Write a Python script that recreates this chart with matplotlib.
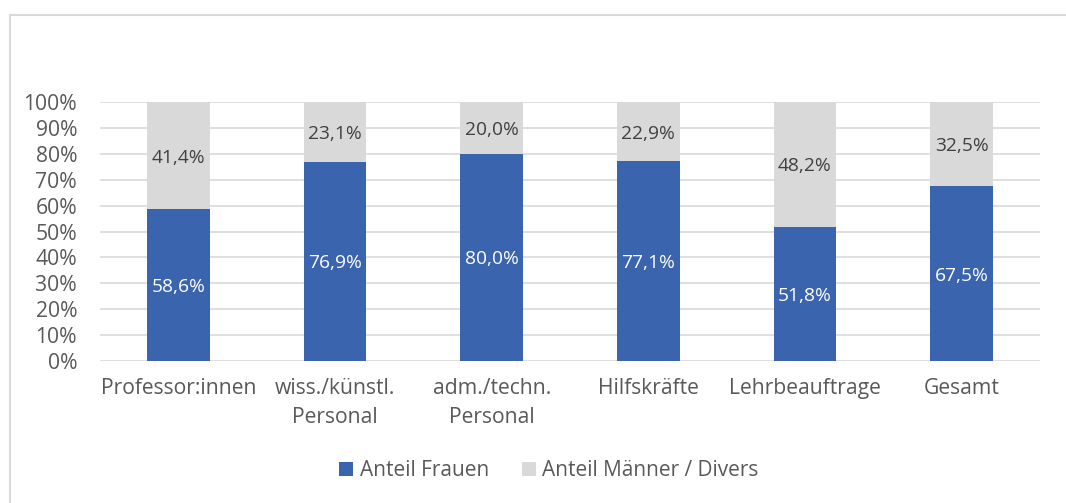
import matplotlib.pyplot as plt
import numpy as np

# Daten
kategorien = ["Professor:innen", "wiss./künstl.\nPersonal", "adm./techn.\nPersonal",
              "Hilfskräfte", "Lehrbeauftrage", "Gesamt"]
anteil_frauen = [58.6, 76.9, 80.0, 77.1, 51.8, 67.5]
anteil_maenner = [41.4, 23.1, 20.0, 22.9, 48.2, 32.5]
serien = ["Anteil Frauen", "Anteil Männer / Divers"]

blau = "#3A64AD"
grau = "#D9D9D9"
textfarbe = "#595959"

plt.rcParams['font.family'] = ['Open Sans', 'DejaVu Sans']

fig = plt.figure(figsize=(10.66, 5.03), dpi=100)
ax = fig.add_axes([100 / 1066, 1 - 361 / 503, 940 / 1066, 259 / 503])

x = np.arange(len(kategorien))
b1 = ax.bar(x, anteil_frauen, width=0.4, color=blau, label=serien[0], zorder=3)
b2 = ax.bar(x, anteil_maenner, width=0.4, bottom=anteil_frauen, color=grau,
            label=serien[1], zorder=3)

for i in range(len(kategorien)):
    ax.text(x[i], anteil_frauen[i] / 2, f"{anteil_frauen[i]:.1f}%".replace(".", ","),
            ha="center", va="center_baseline", color="white", fontsize=13.8, zorder=4)
    ax.text(x[i], anteil_frauen[i] + anteil_maenner[i] / 2,
            f"{anteil_maenner[i]:.1f}%".replace(".", ","),
            ha="center", va="center_baseline", color="#404040", fontsize=13.8, zorder=4)

ax.set_xlim(-0.5, len(kategorien) - 0.5)
ax.set_ylim(0, 100)
ax.set_yticks(range(0, 101, 10))
ax.set_yticklabels([f"{v}%" for v in range(0, 101, 10)])
ax.set_xticks(x)
ax.set_xticklabels(kategorien, linespacing=1.5)
ax.tick_params(axis="both", length=0, labelsize=15.2, colors=textfarbe)
ax.tick_params(axis="x", pad=12.5)
ax.tick_params(axis="y", pad=16.5)
ax.grid(axis="y", color="#D9D9D9", linewidth=1.2, zorder=0)
for s in ax.spines.values():
    s.set_visible(False)

fig.legend(handles=[b1, b2], labels=serien, loc="center", bbox_to_anchor=(549 / 1066, 1 - 471 / 503),
           ncol=2, frameon=False, fontsize=15, labelcolor=textfarbe,
           handlelength=0.67, handleheight=0.67, handletextpad=0.3, columnspacing=1.6)

# Rahmen
fig.add_artist(plt.Line2D([10 / 1066, 10 / 1066], [0, 1 - 15 / 503], color=grau,
                          linewidth=1.5, transform=fig.transFigure))
fig.add_artist(plt.Line2D([10 / 1066, 1], [1 - 15 / 503, 1 - 15 / 503], color=grau,
                          linewidth=1.5, transform=fig.transFigure))

fig.savefig("out.png", dpi=100)
